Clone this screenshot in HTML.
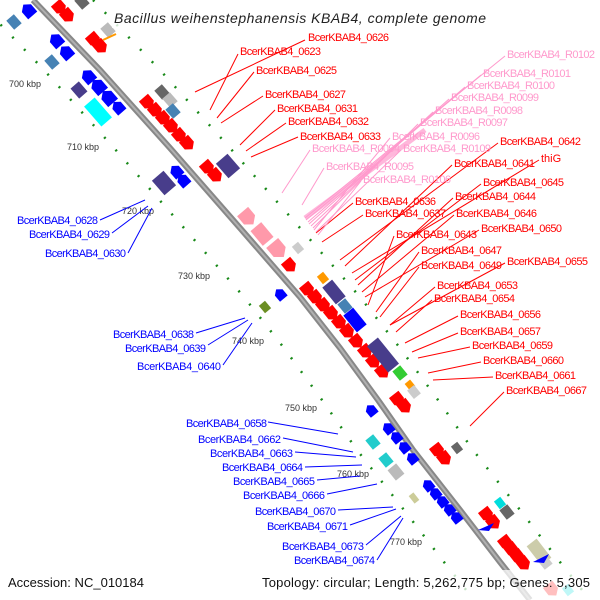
<!DOCTYPE html>
<html><head><meta charset="utf-8"><style>
html,body{margin:0;padding:0;background:#fff;}
svg{display:block;font-family:"Liberation Sans","DejaVu Sans",sans-serif;}
</style></head><body>
<svg width="600" height="600" viewBox="0 0 600 600" xmlns="http://www.w3.org/2000/svg">
<defs>
<polygon id="ar" points="-7,-6 2,-6 7,0 2,6 -7,6"/>
<polygon id="al" points="6,-5 -2,-5 -6,0 -2,5 6,5"/>
<rect id="bx" x="-6" y="-5" width="12" height="10"/>
<rect id="bb" x="-12" y="-7" width="24" height="14"/>
</defs>
<!-- dotted tracks -->
<g fill="none" stroke="#1a8a1a" stroke-width="2.5" stroke-dasharray="2 15">
<polyline points="-23,0 44,70 114,148 184,228 244,297 284,348 322,400 357,450 404,510 444,562 474,600"/>
<polyline points="93,0 160,70 230,148 300,228 360,297 400,348 438,400 473,450 520,510 560,562 590,600"/>
</g>
<!-- backbone -->
<polyline points="33,0 100,70 170,148 240,228 300,297 340,348 378,400 413,450 460,510 500,562 530,600" fill="none" stroke="#888" stroke-width="6"/>
<polyline points="33,0 100,70 170,148 240,228 300,297 340,348 378,400 413,450 460,510 500,562 530,600" fill="none" stroke="#b0b0b0" stroke-width="2"/>
<!-- kbp labels -->
<g font-size="9" fill="#333">
<text x="9" y="87">700 kbp</text><text x="67" y="150">710 kbp</text><text x="122" y="214">720 kbp</text>
<text x="178" y="279">730 kbp</text><text x="232" y="344">740 kbp</text><text x="285" y="411">750 kbp</text>
<text x="337" y="477">760 kbp</text><text x="390" y="545">770 kbp</text>
</g>
<!-- right side red arrows -->
<g fill="#f00">
<use href="#ar" transform="translate(60,8) rotate(49)"/><use href="#ar" transform="translate(68,16) rotate(49)"/>
<use href="#ar" transform="translate(94,40) rotate(49)"/><use href="#ar" transform="translate(101,47) rotate(49)"/>
<use href="#ar" transform="translate(148,103) rotate(49)"/><use href="#ar" transform="translate(156,111) rotate(49)"/>
<use href="#ar" transform="translate(164,119) rotate(49)"/><use href="#ar" transform="translate(172,127) rotate(49)"/>
<use href="#ar" transform="translate(180,136) rotate(49)"/><use href="#ar" transform="translate(188,144) rotate(49)"/>
<use href="#ar" transform="translate(208,168) rotate(49)"/><use href="#ar" transform="translate(216,176) rotate(49)"/>
<use href="#ar" transform="translate(290,266) rotate(50)"/>
<use href="#ar" transform="translate(308,290) rotate(51)"/><use href="#ar" transform="translate(316,298) rotate(51)"/>
<use href="#ar" transform="translate(324,306) rotate(51)"/><use href="#ar" transform="translate(332,314) rotate(51)"/>
<use href="#ar" transform="translate(340,323) rotate(51)"/><use href="#ar" transform="translate(348,332) rotate(51)"/>
<use href="#ar" transform="translate(357,342) rotate(51)"/><use href="#ar" transform="translate(366,352) rotate(51)"/>
<use href="#ar" transform="translate(374,362) rotate(51)"/><use href="#ar" transform="translate(383,372) rotate(51)"/>
<use href="#ar" transform="translate(398,400) rotate(52)"/><use href="#ar" transform="translate(405,407) rotate(52)"/>
<use href="#ar" transform="translate(438,451) rotate(52)"/><use href="#ar" transform="translate(445,459) rotate(52)"/>
<use href="#ar" transform="translate(487,515) rotate(52)"/><use href="#ar" transform="translate(494,523) rotate(52)"/>
<use href="#ar" transform="translate(506,543) rotate(52)"/><use href="#ar" transform="translate(512,550) rotate(52)"/>
<use href="#ar" transform="translate(518,557) rotate(52)"/><use href="#ar" transform="translate(524,564) rotate(52)"/>
<use href="#ar" transform="translate(552,590) rotate(52)"/>
</g>
<!-- right side boxes -->
<use href="#bx" fill="#666" transform="translate(82,2) rotate(49)"/>
<use href="#bx" fill="#bbb" transform="translate(108,30) rotate(49)"/>
<line x1="103" y1="40" x2="116" y2="34" stroke="#f90" stroke-width="2"/>
<use href="#bx" fill="#666" transform="translate(162,92) rotate(49)"/>
<use href="#bx" fill="#bbb" transform="translate(170,100) rotate(49)"/>
<use href="#bx" fill="#4682b4" transform="translate(173,111) rotate(49)"/>
<use href="#bb" fill="#483d8b" transform="translate(228,166) rotate(49) scale(0.8,1.1)"/>
<g fill="#f9a">
<use href="#ar" transform="translate(248,218) rotate(50) scale(1.2)"/>
<use href="#bb" transform="translate(262,234) rotate(50) scale(0.8,1)"/>
<use href="#ar" transform="translate(278,250) rotate(50) scale(1.3)"/>
</g>
<use href="#bx" fill="#ccc" transform="translate(298,248) rotate(50) scale(0.8)"/>
<use href="#bx" fill="#f90" transform="translate(323,278) rotate(51) scale(0.8)"/>
<use href="#bb" fill="#483d8b" transform="translate(334,292) rotate(51) scale(0.9)"/>
<use href="#bx" fill="#4682b4" transform="translate(345,306) rotate(51)"/>
<use href="#bb" fill="#00f" transform="translate(355,320) rotate(51) scale(0.9)"/>
<use href="#bb" fill="#483d8b" transform="translate(383,355) rotate(51) scale(1.4,1)"/>
<use href="#bx" fill="#3c3" transform="translate(400,373) rotate(51)"/>
<use href="#bx" fill="#f90" transform="translate(410,385) rotate(51) scale(0.7)"/>
<use href="#bx" fill="#ccc" transform="translate(414,392) rotate(51) scale(0.9)"/>
<use href="#bx" fill="#666" transform="translate(457,448) rotate(52) scale(0.8)"/>
<use href="#bx" fill="#0dd" transform="translate(500,503) rotate(52) scale(0.8)"/>
<use href="#bx" fill="#666" transform="translate(507,512) rotate(52)"/>
<use href="#bb" fill="#cca" transform="translate(539,552) rotate(52) scale(1,0.9)"/>
<use href="#bx" fill="#ccc" transform="translate(545,562) rotate(52)"/>
<use href="#bx" fill="#0dd" transform="translate(568,590) rotate(52) scale(0.8)"/>
<!-- left side -->
<g fill="#00f">
<use href="#al" transform="translate(28,10) rotate(49) scale(1.2)"/>
<use href="#al" transform="translate(56,40) rotate(49) scale(1.2)"/>
<use href="#al" transform="translate(66,52) rotate(49) scale(1.2)"/>
<use href="#al" transform="translate(88,76) rotate(49) scale(1.2)"/>
<use href="#al" transform="translate(98,86) rotate(49) scale(1.3)"/>
<use href="#al" transform="translate(108,97) rotate(49) scale(1.3)"/>
<use href="#al" transform="translate(118,107) rotate(49) scale(1.1)"/>
<use href="#al" transform="translate(176,171) rotate(49) scale(1.1)"/>
<use href="#al" transform="translate(183,180) rotate(49) scale(1.1)"/>
<use href="#al" transform="translate(280,294) rotate(50)"/>
<use href="#al" transform="translate(371,410) rotate(51)"/>
<use href="#al" transform="translate(388,428) rotate(51)"/>
<use href="#al" transform="translate(396,437) rotate(51)"/>
<use href="#al" transform="translate(404,447) rotate(51)"/>
<use href="#al" transform="translate(412,458) rotate(51)"/>
<use href="#al" transform="translate(428,485) rotate(52)"/>
<use href="#al" transform="translate(435,493) rotate(52)"/>
<use href="#al" transform="translate(442,501) rotate(52)"/>
<use href="#al" transform="translate(449,509) rotate(52)"/>
<use href="#al" transform="translate(456,517) rotate(52)"/>
<polygon points="478,530 494,523 489,531"/>
<polygon points="533,562 549,554 544,563"/>
</g>
<use href="#bx" fill="#4682b4" transform="translate(14,22) rotate(49)"/>
<use href="#bx" fill="#4682b4" transform="translate(52,62) rotate(49)"/>
<use href="#bx" fill="#483d8b" transform="translate(79,90) rotate(49) scale(1.1)"/>
<use href="#bb" fill="#0ff" transform="translate(98,112) rotate(49) scale(1.1,1)"/>
<use href="#bb" fill="#483d8b" transform="translate(164,183) rotate(49) scale(0.8,1.1)"/>
<use href="#bx" fill="#6b8e23" transform="translate(265,307) rotate(50) scale(0.8)"/>
<use href="#bx" fill="#2cc" transform="translate(373,442) rotate(51)"/>
<use href="#bx" fill="#2cc" transform="translate(386,460) rotate(51)"/>
<use href="#bx" fill="#bbb" transform="translate(396,472) rotate(51) scale(1.1)"/>
<use href="#bx" fill="#cc9" transform="translate(414,498) rotate(52) scale(0.8,0.6)"/>
<!-- leader lines red -->
<g stroke="#f00" stroke-width="1">
<line x1="305" y1="40" x2="195" y2="92"/><line x1="238" y1="54" x2="210" y2="110"/>
<line x1="254" y1="72" x2="217" y2="118"/><line x1="263" y1="96" x2="221" y2="123"/>
<line x1="275" y1="110" x2="240" y2="145"/><line x1="286" y1="123" x2="246" y2="151"/>
<line x1="298" y1="137" x2="251" y2="157"/>
<line x1="353" y1="203" x2="316" y2="233"/><line x1="363" y1="215" x2="322" y2="242"/>
<line x1="498" y1="143" x2="340" y2="260"/><line x1="452" y1="165" x2="345" y2="266"/>
<line x1="539" y1="160" x2="352" y2="273"/><line x1="481" y1="184" x2="355" y2="280"/>
<line x1="453" y1="198" x2="358" y2="285"/><line x1="454" y1="215" x2="362" y2="292"/>
<line x1="479" y1="230" x2="365" y2="297"/><line x1="394" y1="236" x2="368" y2="305"/>
<line x1="419" y1="252" x2="376" y2="312"/><line x1="419" y1="267" x2="380" y2="317"/>
<line x1="505" y1="263" x2="390" y2="325"/><line x1="435" y1="287" x2="390" y2="325"/>
<line x1="432" y1="300" x2="396" y2="332"/><line x1="458" y1="316" x2="405" y2="343"/>
<line x1="458" y1="333" x2="412" y2="352"/><line x1="470" y1="347" x2="418" y2="358"/>
<line x1="481" y1="362" x2="428" y2="373"/><line x1="493" y1="377" x2="433" y2="380"/>
<line x1="504" y1="392" x2="470" y2="426"/>
</g>
<!-- pink leader lines -->
<line x1="305" y1="218" x2="425" y2="130" stroke="#f9c" stroke-width="5" opacity="0.7"/>
<g stroke="#f9c" stroke-width="1">
<line x1="505" y1="56" x2="305" y2="218"/><line x1="481" y1="75" x2="306" y2="220"/>
<line x1="465" y1="87" x2="308" y2="222"/><line x1="449" y1="99" x2="309" y2="224"/>
<line x1="433" y1="112" x2="311" y2="226"/><line x1="418" y1="124" x2="313" y2="228"/>
<line x1="390" y1="138" x2="314" y2="230"/><line x1="401" y1="150" x2="316" y2="232"/>
<line x1="310" y1="150" x2="282" y2="193"/><line x1="324" y1="168" x2="302" y2="205"/>
<line x1="361" y1="181" x2="318" y2="235"/>
</g>
<!-- blue leader lines -->
<g stroke="#00f" stroke-width="1">
<line x1="100" y1="220" x2="145" y2="200"/><line x1="112" y1="233" x2="148" y2="206"/>
<line x1="128" y1="253" x2="152" y2="208"/>
<line x1="196" y1="333" x2="245" y2="318"/><line x1="208" y1="345" x2="248" y2="320"/>
<line x1="223" y1="365" x2="252" y2="323"/>
<line x1="268" y1="422" x2="338" y2="434"/><line x1="283" y1="438" x2="353" y2="452"/>
<line x1="295" y1="452" x2="356" y2="457"/><line x1="305" y1="467" x2="362" y2="465"/>
<line x1="317" y1="480" x2="360" y2="476"/><line x1="327" y1="494" x2="377" y2="484"/>
<line x1="338" y1="510" x2="393" y2="507"/><line x1="350" y1="525" x2="396" y2="509"/>
<line x1="366" y1="545" x2="401" y2="516"/><line x1="377" y1="560" x2="403" y2="518"/>
</g>
<!-- red labels -->
<g font-size="11" fill="#f00">
<text x="308" y="41" textLength="81">BcerKBAB4_0626</text>
<text x="240" y="55" textLength="81">BcerKBAB4_0623</text>
<text x="256" y="74" textLength="81">BcerKBAB4_0625</text>
<text x="265" y="98" textLength="81">BcerKBAB4_0627</text>
<text x="277" y="112" textLength="81">BcerKBAB4_0631</text>
<text x="288" y="125" textLength="81">BcerKBAB4_0632</text>
<text x="300" y="140" textLength="81">BcerKBAB4_0633</text>
<text x="500" y="145" textLength="81">BcerKBAB4_0642</text>
<text x="454" y="167" textLength="81">BcerKBAB4_0641</text>
<text x="541" y="162">thiG</text>
<text x="483" y="186" textLength="81">BcerKBAB4_0645</text>
<text x="455" y="200" textLength="81">BcerKBAB4_0644</text>
<text x="355" y="205" textLength="81">BcerKBAB4_0636</text>
<text x="456" y="217" textLength="81">BcerKBAB4_0646</text>
<text x="365" y="217" textLength="81">BcerKBAB4_0637</text>
<text x="481" y="232" textLength="81">BcerKBAB4_0650</text>
<text x="396" y="238" textLength="81">BcerKBAB4_0643</text>
<text x="421" y="254" textLength="81">BcerKBAB4_0647</text>
<text x="421" y="269" textLength="81">BcerKBAB4_0649</text>
<text x="507" y="265" textLength="81">BcerKBAB4_0655</text>
<text x="437" y="289" textLength="81">BcerKBAB4_0653</text>
<text x="434" y="302" textLength="81">BcerKBAB4_0654</text>
<text x="460" y="318" textLength="81">BcerKBAB4_0656</text>
<text x="460" y="335" textLength="81">BcerKBAB4_0657</text>
<text x="472" y="349" textLength="81">BcerKBAB4_0659</text>
<text x="483" y="364" textLength="81">BcerKBAB4_0660</text>
<text x="495" y="379" textLength="81">BcerKBAB4_0661</text>
<text x="506" y="394" textLength="81">BcerKBAB4_0667</text>
</g>
<g font-size="11" fill="#f9c">
<text x="507" y="58" textLength="88">BcerKBAB4_R0102</text>
<text x="483" y="77" textLength="88">BcerKBAB4_R0101</text>
<text x="467" y="89" textLength="88">BcerKBAB4_R0100</text>
<text x="451" y="101" textLength="88">BcerKBAB4_R0099</text>
<text x="435" y="114" textLength="88">BcerKBAB4_R0098</text>
<text x="420" y="126" textLength="88">BcerKBAB4_R0097</text>
<text x="392" y="140" textLength="88">BcerKBAB4_R0096</text>
<text x="312" y="152" textLength="88">BcerKBAB4_R0094</text>
<text x="403" y="152" textLength="88">BcerKBAB4_R0109</text>
<text x="326" y="170" textLength="88">BcerKBAB4_R0095</text>
<text x="363" y="183" textLength="88">BcerKBAB4_R0106</text>
</g>
<g font-size="11" fill="#00f">
<text x="17" y="224" textLength="81">BcerKBAB4_0628</text>
<text x="29" y="238" textLength="81">BcerKBAB4_0629</text>
<text x="45" y="257" textLength="81">BcerKBAB4_0630</text>
<text x="113" y="338" textLength="81">BcerKBAB4_0638</text>
<text x="125" y="352" textLength="81">BcerKBAB4_0639</text>
<text x="137" y="370" textLength="84">BcerKBAB4_0640</text>
<text x="186" y="427" textLength="81">BcerKBAB4_0658</text>
<text x="198" y="443" textLength="83">BcerKBAB4_0662</text>
<text x="210" y="457" textLength="83">BcerKBAB4_0663</text>
<text x="222" y="471" textLength="81">BcerKBAB4_0664</text>
<text x="233" y="485" textLength="82">BcerKBAB4_0665</text>
<text x="243" y="499" textLength="82">BcerKBAB4_0666</text>
<text x="255" y="515" textLength="81">BcerKBAB4_0670</text>
<text x="267" y="530" textLength="81">BcerKBAB4_0671</text>
<text x="282" y="550" textLength="82">BcerKBAB4_0673</text>
<text x="294" y="564" textLength="81">BcerKBAB4_0674</text>
</g>
<!-- title & footer -->
<rect x="112" y="6" width="378" height="22" fill="#fff" opacity="0.8"/>
<text x="114" y="23" font-size="14" font-style="italic" fill="#222" textLength="372">Bacillus weihenstephanensis KBAB4, complete genome</text>
<rect x="0" y="570" width="600" height="30" fill="#fff" opacity="0.75"/>
<text x="8" y="587" font-size="13" fill="#111" textLength="136">Accession: NC_010184</text>
<text x="262" y="587" font-size="13" fill="#111" textLength="328">Topology: circular; Length: 5,262,775 bp; Genes: 5,305</text>
</svg>
</body></html>
